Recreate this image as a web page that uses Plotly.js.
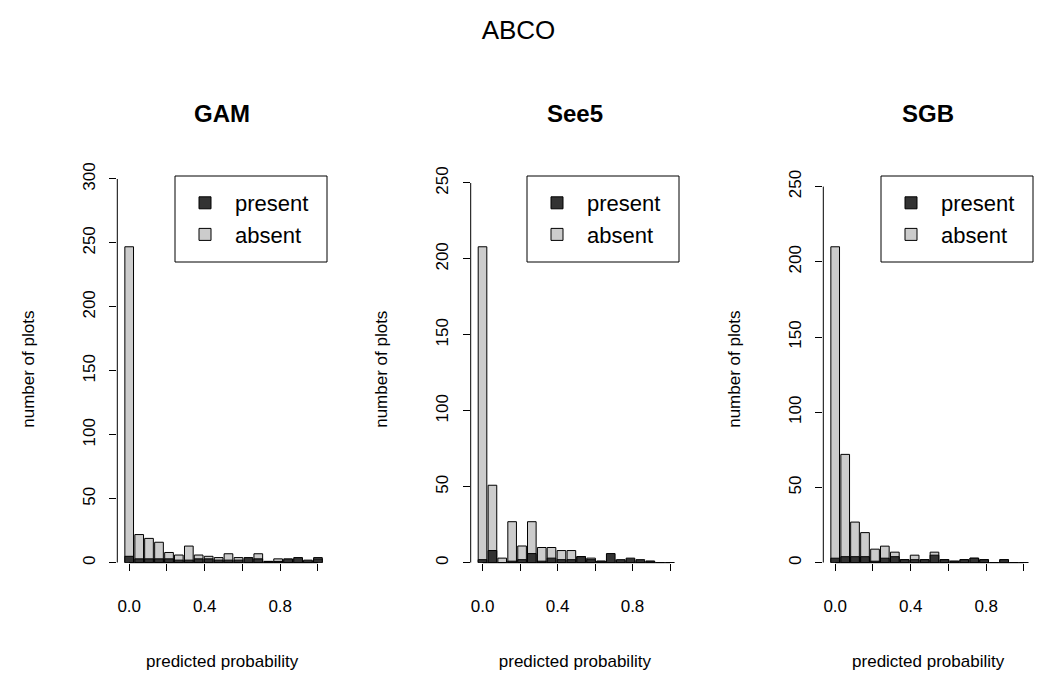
<!DOCTYPE html>
<html>
<head>
<meta charset="utf-8">
<script src="https://cdn.plot.ly/plotly-3.0.1.min.js"></script>
<style>html,body{margin:0;padding:0;background:#fff;}#chart{width:1037px;height:677px;}</style>
</head>
<body>
<div id="chart"></div>
<script>
// bin midpoints of predicted probability (20 bins)
const binMid = [0.000, 0.053, 0.105, 0.158, 0.211, 0.263, 0.316, 0.368, 0.421, 0.474,
                0.526, 0.579, 0.632, 0.684, 0.737, 0.789, 0.842, 0.895, 0.947, 1.000];

const gamAbsent  = [247, 22, 19, 16, 8, 6, 13, 6, 5, 4, 7, 4, 3, 7, 1, 3, 2, 3, 1, 4];
const gamPresent = [5, 3, 3, 3, 3, 2, 2, 3, 3, 2, 2, 2, 4, 3, 1, 1, 3, 4, 2, 3];

const see5Absent  = [208, 51, 3, 27, 11, 27, 10, 10, 8, 8, 4, 3, 1, 2, 1, 2, 1, 1, 0, 0];
const see5Present = [2, 8, 0, 1, 2, 6, 1, 3, 2, 2, 4, 2, 1, 6, 2, 3, 2, 1, 0, 0];

const sgbAbsent  = [210, 72, 27, 20, 9, 11, 7, 2, 5, 2, 7, 2, 1, 2, 3, 2, 0, 2, 0, 0];
const sgbPresent = [3, 4, 4, 4, 1, 3, 4, 2, 2, 2, 5, 2, 1, 2, 3, 2, 0, 2, 0, 0];

const modelNames = ['GAM', 'See5', 'SGB'];
const xTickVals = [0, 0.2, 0.4, 0.6, 0.8, 1.0];
const xTickText = ['0.0', '', '0.4', '', '0.8', ''];
const gamYTicks = [0, 50, 100, 150, 200, 250, 300];
const see5YTicks = [0, 50, 100, 150, 200, 250];
const sgbYTicks = [0, 50, 100, 150, 200, 250];

const W = 1037, H = 677;
const FONT = 'Liberation Sans, Arial, Helvetica, sans-serif';
const DARK = '#333333', LIGHT = '#cccccc';

const panels = [
  {name: modelNames[0], absent: gamAbsent, present: gamPresent, yticks: gamYTicks, px: [117.3, 327]},
  {name: modelNames[1], absent: see5Absent, present: see5Present, yticks: see5YTicks, px: [470.7, 679]},
  {name: modelNames[2], absent: sgbAbsent, present: sgbPresent, yticks: sgbYTicks, px: [823.3, 1033]}
];
const yDom = [1 - 562.7 / H, 1 - 175.7 / H];

const traces = [];
const layout = {
  width: W, height: H,
  margin: {l: 0, r: 0, t: 0, b: 0},
  paper_bgcolor: '#ffffff', plot_bgcolor: '#ffffff',
  font: {family: FONT, color: '#000000', size: 17},
  title: {text: 'ABCO', x: 0.5, xanchor: 'center', y: 1 - 30 / H, yanchor: 'middle',
          font: {family: FONT, size: 26, color: '#000'}},
  barmode: 'overlay',
  bargap: 0,
  shapes: [],
  annotations: []
};

panels.forEach((p, i) => {
  const k = i === 0 ? '' : String(i + 1);
  const xa = 'x' + k, ya = 'y' + k;
  const lg = 'legend' + k;
  const xd = [p.px[0] / W, p.px[1] / W];
  const ymax = Math.max(...p.absent) * 1.225;

  traces.push({
    type: 'bar', x: binMid, y: p.absent, name: 'absent', xaxis: xa, yaxis: ya,
    width: 0.046, legend: lg, legendrank: 2,
    marker: {color: LIGHT, line: {color: '#000', width: 1}}, hoverinfo: 'x+y'
  });
  traces.push({
    type: 'bar', x: binMid, y: p.present, name: 'present', xaxis: xa, yaxis: ya,
    width: 0.046, legend: lg, legendrank: 1,
    marker: {color: DARK, line: {color: '#000', width: 1}}, hoverinfo: 'x+y'
  });

  layout['xaxis' + k] = {
    domain: xd, anchor: ya, range: [-0.063, 1.048],
    tickmode: 'array', tickvals: xTickVals, ticktext: xTickText,
    ticks: 'outside', ticklen: 7, tickcolor: '#000', tickwidth: 1,
    ticklabelstandoff: 21,
    showgrid: false, zeroline: false, showline: false,
    tickfont: {family: FONT, size: 17},
    title: {text: 'predicted probability', standoff: 40, font: {family: FONT, size: 17}},
    automargin: false, fixedrange: true
  };
  layout['yaxis' + k] = {
    domain: yDom, anchor: xa, range: [0, ymax],
    tickmode: 'array', tickvals: p.yticks,
    ticks: 'outside', ticklen: 7, tickcolor: '#000', tickwidth: 1,
    tickangle: -90, ticklabelstandoff: 8,
    showgrid: false, zeroline: false, showline: false,
    tickfont: {family: FONT, size: 17},
    title: {text: 'number of plots', standoff: 40, font: {family: FONT, size: 17}},
    automargin: false, fixedrange: true
  };
  const boxL = p.px[1] - 152, boxT = 176, boxB = 262;
  layout[lg] = {
    x: boxL / W, xanchor: 'left', y: 1 - (boxT + 6) / H, yanchor: 'top',
    xref: 'paper', yref: 'paper',
    borderwidth: 0, bgcolor: 'rgba(0,0,0,0)',
    font: {family: FONT, size: 22}, traceorder: 'normal',
    itemwidth: 50
  };
  layout.shapes.push({type: 'rect', xref: 'paper', yref: 'paper', layer: 'above',
    x0: boxL / W, x1: p.px[1] / W, y0: 1 - boxB / H, y1: 1 - boxT / H,
    line: {color: '#000', width: 1}, fillcolor: 'rgba(0,0,0,0)'});
  // R-style axis lines spanning only the tick range
  layout.shapes.push({type: 'line', xref: xa + ' domain', yref: ya, x0: 0, x1: 0,
    y0: p.yticks[0], y1: p.yticks[p.yticks.length - 1], line: {color: '#000', width: 1}});
  layout.shapes.push({type: 'line', xref: xa, yref: ya + ' domain', x0: xTickVals[0],
    x1: xTickVals[xTickVals.length - 1], y0: 0, y1: 0, line: {color: '#000', width: 1}});
  layout.annotations.push({
    text: '<b>' + p.name + '</b>', xref: xa + ' domain', yref: 'paper',
    x: 0.5, y: 1 - 113 / H, xanchor: 'center', yanchor: 'middle', showarrow: false,
    font: {family: FONT, size: 24, color: '#000'}
  });
});

Plotly.newPlot('chart', traces, layout, {displayModeBar: false, staticPlot: true});
</script>
</body>
</html>
